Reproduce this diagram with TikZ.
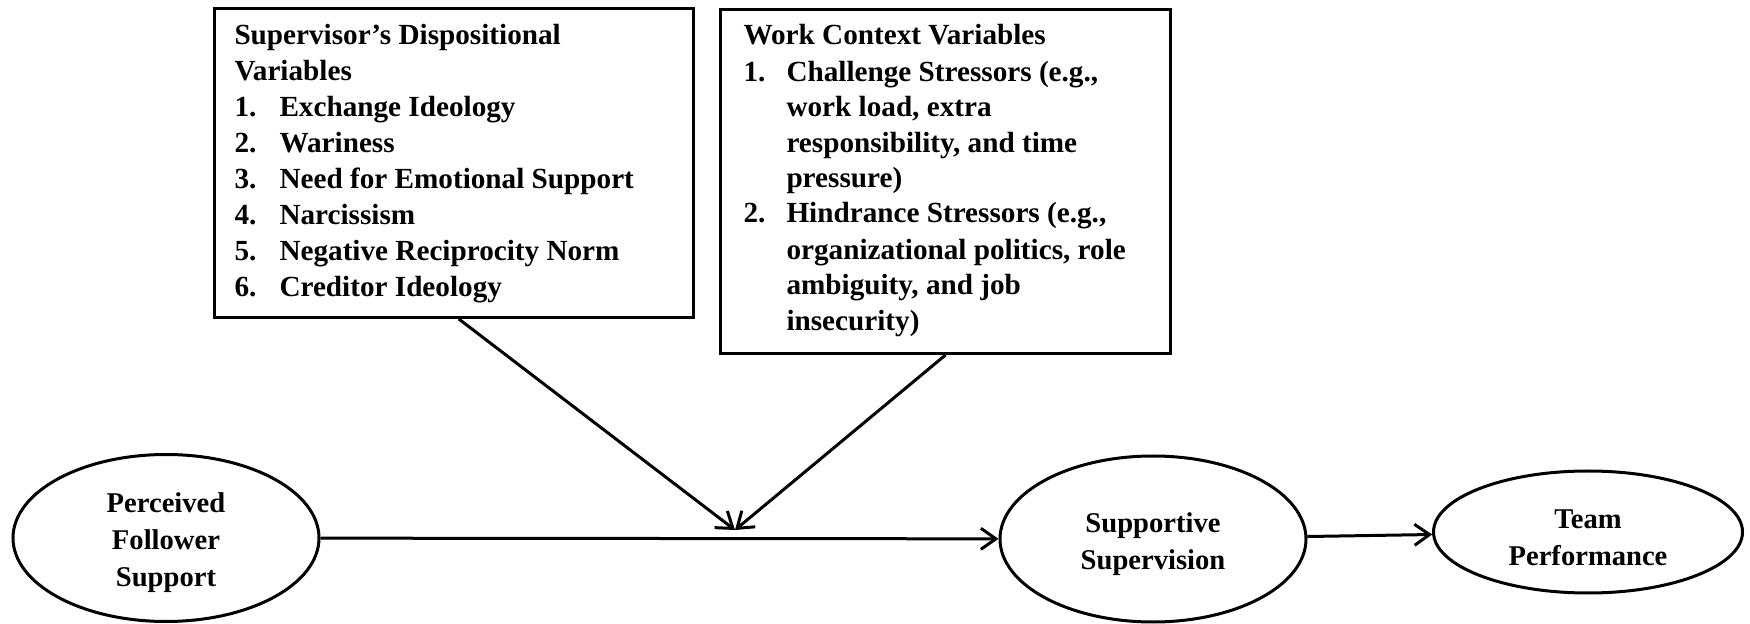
\documentclass[tikz,border=0pt]{standalone}
\usepackage{fontspec}
\setmainfont{Liberation Serif}
\usetikzlibrary{arrows.meta,calc,shapes.geometric}
\newcommand{\toppad}{\rule{0pt}{15pt}}
\begin{document}
\begin{tikzpicture}[x=0.5pt,y=-0.5pt,
 line width=1.5pt,
 txt/.style={inner sep=0pt, anchor=base west, font=\bfseries\fontsize{14.6}{17}\selectfont},
 oval/.style={draw, ellipse, inner sep=0pt, align=center, font=\bfseries\fontsize{14.3}{18.5}\selectfont},
 panel/.style={draw, rectangle, anchor=north west, inner sep=0pt},
 arr/.style={-{Straight Barb[length=7.5pt,width=10.5pt,line width=1.5pt]}}
]
\path[use as bounding box, fill=white] (0,0) rectangle (1750,624);

% boxes
\node[panel, minimum width=239.5pt, minimum height=154.5pt] (box1) at (213,7) {};
\node[panel, minimum width=225pt, minimum height=172pt] (box2) at (719,8) {};

% box 1 text
\node[txt] (a0) at (233,45) {Supervisor’s Dispositional};
\node[txt] (a1) at (233,81) {Variables};
\node[txt] (a2n) at (233,117) {1.}; \node[txt] (a2) at (278,117) {Exchange Ideology};
\node[txt] (a3n) at (233,153) {2.}; \node[txt] (a3) at (278,153) {Wariness};
\node[txt] (a4n) at (233,189) {3.}; \node[txt] (a4) at (278,189) {Need for Emotional Support};
\node[txt] (a5n) at (233,225) {4.}; \node[txt] (a5) at (278,225) {Narcissism};
\node[txt] (a6n) at (233,261) {5.}; \node[txt] (a6) at (278,261) {Negative Reciprocity Norm};
\node[txt] (a7n) at (233,297) {6.}; \node[txt] (a7) at (278,297) {Creditor Ideology};

% box 2 text
\node[txt] (b0) at (742,45) {Work Context Variables};
\node[txt] (b1n) at (742,82) {1.}; \node[txt] (b1) at (785,82) {Challenge Stressors (e.g.,};
\node[txt] (b2) at (785,117) {work load, extra};
\node[txt] (b3) at (785,153) {responsibility, and time};
\node[txt] (b4) at (785,188) {pressure)};
\node[txt] (b5n) at (742,223) {2.}; \node[txt] (b5) at (785,223) {Hindrance Stressors (e.g.,};
\node[txt] (b6) at (785,260) {organizational politics, role};
\node[txt] (b7) at (785,295) {ambiguity, and job};
\node[txt] (b8) at (785,331) {insecurity)};

% ellipses
\node[oval, minimum width=153pt, minimum height=83.5pt] (pfs) at (166,538) {\toppad Perceived\\Follower\\Support};
\node[oval, minimum width=153pt, minimum height=83pt] (ss) at (1153,539) {\toppad Supportive\\Supervision};
\node[oval, minimum width=154.5pt, minimum height=61pt] (tp) at (1588,532) {\toppad Team\\Performance};

% connectors
\coordinate (m) at (735,530);
\draw[arr] (pfs) -- (ss);
\draw[arr] (ss) -- (tp);
\draw[arr] ($(box1.south west)!0.51!(box1.south east)$) -- (m);
\draw[arr] (box2.south) -- (m);
\end{tikzpicture}
\end{document}
